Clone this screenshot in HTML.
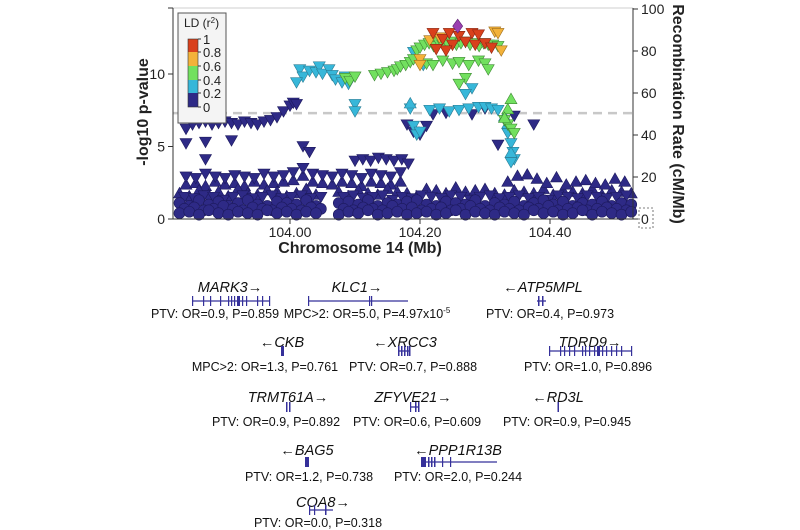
<!DOCTYPE html>
<html><head><meta charset="utf-8"><style>
html,body{margin:0;padding:0;background:#fff;}
body{width:800px;height:530px;overflow:hidden;position:relative;font-family:"Liberation Sans",Arial,sans-serif;}
svg{position:absolute;left:0;top:0;}
</style></head><body>
<svg id="chart" width="800" height="530" viewBox="0 0 800 530" xmlns="http://www.w3.org/2000/svg">
  <g id="plot"></g>
  <g id="axes"></g>
  <g id="legend"></g>
  <g id="genes"></g>
</svg>
<script>
// ---- data ----
const xTicks = [104.00, 104.20, 104.40];
const xTickLabels = ["104.00", "104.20", "104.40"];
const yTicks = [0, 5, 10];
const recTicks = [0, 20, 40, 60, 80, 100];
const gwasThreshold = 7.3;

const navyCirX = [103.83,103.845,103.86,103.875,103.89,103.905,103.92,103.935,103.95,103.965,103.98,103.995,104.01,104.025,104.04,104.075,104.09,104.105,104.12,104.135,104.15,104.165,104.18,104.195,104.21,104.225,104.24,104.255,104.27,104.285,104.3,104.315,104.33,104.345,104.36,104.375,104.39,104.405,104.42,104.435,104.45,104.465,104.48,104.495,104.51,104.525];
const navyCirY = [0.4,0.5,0.3,0.6,0.4,0.3,0.5,0.4,0.3,0.6,0.4,0.5,0.3,0.5,0.4,0.3,0.5,0.4,0.6,0.3,0.4,0.5,0.3,0.4,0.5,0.3,0.4,0.6,0.3,0.5,0.4,0.3,0.5,0.4,0.3,0.6,0.4,0.5,0.3,0.4,0.6,0.3,0.5,0.4,0.3,0.5];
const navyCir2Y = [1.1,0.9,1.3,1.0,1.2,0.9,1.1,1.3,1.0,0.9,1.2,1.1,1.0,1.3,0.9,1.1,1.2,1.0,1.3,0.9,1.1,1.0,1.2,1.3,1.0,0.9,1.2,1.1,1.0,1.3,0.9,1.1,1.0,1.2,0.9,1.1,1.3,1.0,1.2,0.9,1.1,1.0,1.2,0.9,1.1,1.0];
const navyUpY = [1.8,1.6,2.0,1.7,1.9,1.6,2.1,1.8,1.7,2.0,1.9,1.6,1.8,2.1,1.7,1.9,1.6,2.0,1.8,1.7,2.1,1.9,1.8,1.6,2.1,2.0,1.8,2.2,1.9,2.0,2.1,1.8,1.7,2.0,1.9,1.8,2.1,1.7,2.0,1.9,1.8,2.1,1.7,2.0,1.9,1.8];
const navyStagX = [103.8375,103.8525,103.8675,103.8825,103.8975,103.9125,103.9275,103.9425,103.9575,103.9725,103.9875,104.0025,104.0175,104.0325,104.0475,104.0825,104.0975,104.1125,104.1275,104.1425,104.1575,104.1725,104.1875,104.2025,104.2175,104.2325,104.2475,104.2625,104.2775,104.2925,104.3075,104.3225,104.3375,104.3525,104.3675,104.3825,104.3975,104.4125,104.4275,104.4425,104.4575,104.4725,104.4875,104.5025,104.5175];
const navyStagY = [0.7,0.8,0.6,0.7,0.9,0.7,0.6,0.8,0.7,0.6,0.8,0.7,0.6,0.8,0.7,0.7,0.6,0.8,0.7,0.6,0.9,0.7,0.8,0.6,0.7,0.8,0.6,0.7,0.9,0.7,0.6,0.8,0.7,0.6,0.8,0.7,0.9,0.6,0.7,0.8,0.6,0.7,0.8,0.7,0.6];
const navyStag2Y = [1.5,1.4,1.6,1.5,1.3,1.5,1.6,1.4,1.5,1.6,1.4,1.5,1.6,1.4,1.5,1.5,1.6,1.4,1.5,1.6,1.3,1.5,1.4,1.6,1.5,1.4,1.6,1.5,1.3,1.5,1.6,1.4,1.5,1.6,1.4,1.5,1.3,1.6,1.5,1.4,1.6,1.5,1.4,1.5,1.6];
const navyBandX = [103.84,103.855,103.87,103.885,103.9,103.915,103.93,103.945,103.96,103.975,103.99,104.005,104.02,104.035,104.05,104.065,104.08,104.095,104.11,104.125,104.14,104.155,104.17];
const navyBandY = [2.9,2.8,3.1,2.9,2.8,3.0,2.9,2.8,3.1,2.9,3.0,3.2,3.5,3.1,3.0,2.9,3.1,3.0,2.8,3.1,3.0,2.9,3.2];
const navyBand2Y = [2.4,2.5,2.3,2.6,2.4,2.5,2.3,2.6,2.4,2.5,2.6,2.7,3.0,2.6,2.5,2.4,2.6,2.5,2.3,2.6,2.5,2.4,2.6];
const navyRightX = [104.335,104.35,104.365,104.38,104.395,104.41,104.425,104.44,104.455,104.47,104.485,104.5,104.515];
const navyRightY = [2.6,3.0,3.1,2.8,2.5,2.9,2.4,2.6,2.7,2.5,2.4,2.8,2.6];
const navyMidX = [104.10,104.112,104.124,104.136,104.148,104.16,104.172,104.182];
const navyMidY = [4.0,4.1,4.0,4.2,4.1,4.0,4.1,3.8];
const navyDownX = [103.84,103.85,103.86,103.87,103.88,103.89,103.9,103.91,103.92,103.93,103.94,103.95,103.96,103.97,103.98,103.99,104.0,104.005,104.01,103.84,103.87,103.87,103.91,104.02,104.03,104.18,104.19,104.28,104.3,104.345,104.375,104.32,104.22,104.24,104.2,104.21];
const navyDownY = [6.2,6.5,6.6,6.7,6.5,6.6,6.7,6.6,6.5,6.7,6.6,6.5,6.7,6.8,7.0,7.4,7.8,8.0,7.9,5.2,5.3,4.1,5.4,5.0,4.6,6.5,6.0,7.2,7.6,7.1,6.5,5.1,7.2,7.3,5.8,6.4];
const cyanX = [104.015,104.02,104.03,104.04,104.045,104.05,104.06,104.065,104.07,104.08,104.085,104.09,104.1,104.1,104.01,104.19,104.185,104.19,104.195,104.2,104.205,104.215,104.23,104.245,104.26,104.275,104.29,104.3,104.31,104.32,104.28,104.27,104.335,104.34,104.343,104.345,104.34];
const cyanY = [10.3,9.8,10.2,10.1,10.5,10.0,10.3,9.9,9.6,9.4,9.8,9.3,7.9,7.4,9.4,11.5,7.6,6.4,5.8,6.0,10.6,7.5,7.6,7.4,7.5,7.6,7.7,7.7,7.6,7.5,9.0,8.6,5.9,5.2,4.6,4.1,3.9];
const cyanUpX = [104.185,104.33,104.335,104.34];
const cyanUpY = [8.0,7.1,6.6,4.6];
const greenX = [104.085,104.092,104.1,104.13,104.14,104.15,104.16,104.165,104.17,104.178,104.185,104.19,104.195,104.2,104.207,104.214,104.221,104.228,104.235,104.242,104.249,104.256,104.263,104.27,104.277,104.284,104.291,104.298,104.305,104.312,104.32,104.21,104.22,104.235,104.25,104.26,104.275,104.29,104.3,104.27,104.26,104.305,104.33,104.335,104.34,104.345];
const greenY = [9.7,9.5,9.8,9.9,10.0,10.1,10.2,10.3,10.5,10.6,10.8,11.0,11.6,11.8,12.0,12.1,11.9,12.2,12.0,12.1,12.2,12.0,12.1,12.2,12.0,12.1,11.9,12.1,12.0,12.0,11.9,10.7,10.6,10.9,10.7,10.8,10.6,10.9,10.7,9.7,9.3,10.3,6.8,6.5,6.2,5.9];
const greenUpX = [104.34,104.335,104.33];
const greenUpY = [8.3,7.6,7.0];
const yellowX = [104.2,104.2,104.215,104.23,104.315,104.32,104.325];
const yellowY = [11.0,10.6,12.3,12.5,12.9,12.8,11.6];
const redX = [104.22,104.235,104.245,104.25,104.26,104.27,104.28,104.285,104.29,104.3,104.31,104.24,104.225];
const redY = [12.8,12.4,12.8,12.0,12.6,12.2,12.8,12.0,12.7,12.1,11.8,11.6,11.7];
const purpleX = [104.258];
const purpleY = [13.3];

const ldLabels = ["1","0.8","0.6","0.4","0.2","0"];
const ldColors = ["#d9401c","#f3b23a","#72e05f","#37b7d9","#2e2a86"];

// ---- scales ----
const X0 = 290, PXMB = 650, Y0 = 219, PXU = 14.5;
const L = 173, R = 633, T = 8;
function xs(v){ return X0 + (v - 104.0) * PXMB; }
function ys(v){ return Y0 - v * PXU; }
function rs(v){ return Y0 - v * 2.1; }

const NS = "http://www.w3.org/2000/svg";
function mk(tag, attrs, parent){
  const e = document.createElementNS(NS, tag);
  for (const k in attrs) e.setAttribute(k, attrs[k]);
  parent.appendChild(e);
  return e;
}
const plot = document.getElementById('plot');
const axes = document.getElementById('axes');
const legend = document.getElementById('legend');
const genes = document.getElementById('genes');

let fr = mk('line', {x1:L, y1:T, x2:R, y2:T, stroke:'#cfcfcf', 'stroke-width':1}, axes);



let th = mk('line', {x1:L, y1:ys(gwasThreshold), x2:R, y2:ys(gwasThreshold), stroke:'#c8c8c8', 'stroke-width':2.5, 'stroke-dasharray':'9 6'}, plot);



function tri(x, y, up){
  return up ? `M${x-6},${y+5} L${x+6},${y+5} L${x},${y-5.5} Z`
            : `M${x-6},${y-5} L${x+6},${y-5} L${x},${y+5.5} Z`;
}
function drawSeries(xArr, yArr, shape, fill, stroke, name){
  for (let i = 0; i < xArr.length; i++){
    const x = xs(xArr[i]), y = ys(yArr[i]);
    let el;
    if (shape === 'circle') el = mk('circle', {cx:x, cy:y, r:5.5, fill:fill, stroke:stroke, 'stroke-width':0.6}, plot);
    else if (shape === 'diamond') el = mk('path', {d:`M${x},${y-7} L${x+5},${y} L${x},${y+7} L${x-5},${y} Z`, fill:fill, stroke:stroke, 'stroke-width':0.6}, plot);
    else el = mk('path', {d:tri(x, y, shape === 'up'), fill:fill, stroke:stroke, 'stroke-width':0.6}, plot);
    
    
  }
}
const NV = '#2e2a86', NVS = '#1d1a5e';
drawSeries(navyBandX, navyBand2Y, 'up', NV, NVS, 'snp-point-ld-0');
drawSeries(navyCirX, navyUpY, 'up', NV, NVS, 'snp-point-ld-0');
drawSeries(navyStagX, navyStag2Y, 'down', NV, NVS, 'snp-point-ld-0');
drawSeries(navyCirX, navyCir2Y, 'circle', NV, NVS, 'snp-point-ld-0');
drawSeries(navyStagX, navyStagY, 'circle', NV, NVS, 'snp-point-ld-0');
drawSeries(navyCirX, navyCirY, 'circle', NV, NVS, 'snp-point-ld-0');
drawSeries(navyBandX, navyBandY, 'down', NV, NVS, 'snp-point-ld-0');
drawSeries(navyRightX, navyRightY, 'up', NV, NVS, 'snp-point-ld-0');
drawSeries(navyMidX, navyMidY, 'down', NV, NVS, 'snp-point-ld-0');
drawSeries(navyDownX, navyDownY, 'down', NV, NVS, 'snp-point-ld-0');
drawSeries(cyanX, cyanY, 'down', '#37b7d9', '#2a7d95', 'snp-point-ld-0.2');
drawSeries(cyanUpX, cyanUpY, 'up', '#37b7d9', '#2a7d95', 'snp-point-ld-0.2');
drawSeries(greenX, greenY, 'down', '#72e05f', '#3f8a35', 'snp-point-ld-0.4');
drawSeries(greenUpX, greenUpY, 'up', '#72e05f', '#3f8a35', 'snp-point-ld-0.4');
drawSeries(yellowX, yellowY, 'down', '#f3b23a', '#a06e1c', 'snp-point-ld-0.6');
drawSeries(redX, redY, 'down', '#d9401c', '#8a2610', 'snp-point-ld-0.8');
drawSeries(purpleX, purpleY, 'diamond', '#9b3fb0', '#5d2270', 'lead-snp');

let la = mk('line', {x1:L, y1:T, x2:L, y2:Y0, stroke:'#333', 'stroke-width':1}, axes);


let ba = mk('line', {x1:L, y1:Y0, x2:R, y2:Y0, stroke:'#333', 'stroke-width':1}, axes);


let ra = mk('line', {x1:R, y1:T, x2:R, y2:Y0, stroke:'#333', 'stroke-width':1}, axes);



yTicks.forEach(v => {
  mk('line', {x1:L-5, y1:ys(v), x2:L, y2:ys(v), stroke:'#333'}, axes);
  const t = mk('text', {x:L-8, y:ys(v)+5, 'text-anchor':'end', 'font-size':14, fill:'#222'}, axes);
  t.textContent = v;
  
  
});
mk('line', {x1:L, y1:T, x2:L-5, y2:T, stroke:'#333'}, axes);
recTicks.forEach(v => {
  mk('line', {x1:R, y1:rs(v), x2:R+5, y2:rs(v), stroke:'#333'}, axes);
  const t = mk('text', {x:R+8, y:rs(v)+5, 'font-size':14, fill:'#222'}, axes);
  t.textContent = v;
  
  
});
let db = mk('rect', {x:639, y:208, width:14, height:20, fill:'none', stroke:'#555', 'stroke-dasharray':'2 2', 'stroke-width':0.8}, axes);


xTicks.forEach((v, i) => {
  mk('line', {x1:xs(v), y1:Y0, x2:xs(v), y2:Y0+5, stroke:'#333'}, axes);
  const t = mk('text', {x:xs(v), y:237, 'text-anchor':'middle', 'font-size':14, fill:'#222'}, axes);
  t.textContent = xTickLabels[i];
  
  
});
let xt = mk('text', {x:360, y:253, 'text-anchor':'middle', 'font-size':16, 'font-weight':'bold', fill:'#222'}, axes);
xt.textContent = 'Chromosome 14 (Mb)';


let yt = mk('text', {x:0, y:0, transform:'translate(148,112) rotate(-90)', 'text-anchor':'middle', 'font-size':16, 'font-weight':'bold', fill:'#222'}, axes);
yt.textContent = '-log10 p-value';


let rt = mk('text', {x:0, y:0, transform:'translate(673,114) rotate(90)', 'text-anchor':'middle', 'font-size':16, 'font-weight':'bold', fill:'#222'}, axes);
rt.textContent = 'Recombination Rate (cM/Mb)';



let lb = mk('rect', {x:178, y:13, width:48, height:110, fill:'#f4f4f4', stroke:'#555', 'stroke-width':1}, legend);


let ltt = mk('text', {x:184, y:27, 'font-size':12, fill:'#222'}, legend);
ltt.innerHTML = 'LD (r<tspan font-size="8" dy="-4">2</tspan><tspan dy="4">)</tspan>';


const segY = [39, 52, 66, 80, 93, 107];
ldColors.forEach((c, i) => {
  const r = mk('rect', {x:188, y:segY[i], width:10, height:segY[i+1]-segY[i], fill:c}, legend);
  
  
});
mk('rect', {x:188, y:39, width:10, height:68, fill:'none', stroke:'#333', 'stroke-width':0.6}, legend);
ldLabels.forEach((lab, i) => {
  mk('line', {x1:198, y1:segY[i], x2:201, y2:segY[i], stroke:'#333'}, legend);
  const t = mk('text', {x:203, y:segY[i]+5, 'font-size':13, fill:'#222'}, legend);
  t.textContent = lab;
  
  
});

const GC = '#35309a';
function gene(name, tx, ty, x1, x2, gy, exons, label, lx, ly, key){
  const g = mk('g', {}, genes);
  
  
  const t = mk('text', {x:tx, y:ty, 'text-anchor':'middle', 'font-size':14.5, 'font-style':'italic', fill:'#111'}, g);
  t.textContent = name;
  
  
  if (x2 > x1) mk('line', {x1:x1, y1:gy, x2:x2, y2:gy, stroke:GC, 'stroke-width':1.3}, g);
  exons.forEach(e => mk('rect', {x:e[0], y:gy-5, width:e[1], height:10, fill:GC}, g));
  const l = mk('text', {x:lx, y:ly, 'text-anchor':'middle', 'font-size':12.5, fill:'#111'}, g);
  l.innerHTML = label;
  
  
}
gene('MARK3\u2192', 230, 292, 192, 270, 301, [[192,1.2],[203,1.2],[210,1.2],[220,1.2],[228,1.2],[231,1.2],[234,1.2],[237,3],[242,1.2],[246,1.2],[257,1.2],[262,1.2],[269,1.2]], 'PTV: OR=0.9, P=0.859', 215, 318, 'mark3');
gene('KLC1\u2192', 357, 292, 308, 408, 301, [[308,1.2],[369,1.2],[371,1.2]], 'MPC&gt;2: OR=5.0, P=4.97x10<tspan font-size="8" dy="-5">-5</tspan>', 367, 318, 'klc1');
gene('\u2190ATP5MPL', 543, 292, 537, 546, 301, [[538,1.5],[542,1.5]], 'PTV: OR=0.4, P=0.973', 550, 318, 'atp5mpl');
gene('\u2190CKB', 282, 347, 0, 0, 351, [[281,3]], 'MPC&gt;2: OR=1.3, P=0.761', 265, 371, 'ckb');
gene('\u2190XRCC3', 405, 347, 398, 410, 351, [[398,1.5],[401,1.5],[404,1.5],[407,1.5],[409,1.5]], 'PTV: OR=0.7, P=0.888', 413, 371, 'xrcc3');
gene('TDRD9\u2192', 590, 347, 549, 632, 351, [[549,1.2],[560,1.2],[564,1.2],[569,1.2],[574,1.2],[582,1.2],[585,1.2],[589,1.2],[594,1.2],[597,3],[602,1.2],[606,1.2],[611,1.2],[616,1.2],[621,1.2],[631,1.2]], 'PTV: OR=1.0, P=0.896', 588, 371, 'tdrd9');
gene('TRMT61A\u2192', 288, 402, 0, 0, 407, [[286,1.5],[289,1.5]], 'PTV: OR=0.9, P=0.892', 276, 426, 'trmt61a');
gene('ZFYVE21\u2192', 413, 402, 410, 419, 407, [[410,1.2],[415,1.5],[418,1.5]], 'PTV: OR=0.6, P=0.609', 417, 426, 'zfyve21');
gene('\u2190RD3L', 558, 402, 0, 0, 407, [[557.5,1.5]], 'PTV: OR=0.9, P=0.945', 567, 426, 'rd3l');
gene('\u2190BAG5', 307, 455, 0, 0, 462, [[305,4]], 'PTV: OR=1.2, P=0.738', 309, 481, 'bag5');
gene('\u2190PPP1R13B', 458, 455, 421, 497, 462, [[421,5],[428,1.5],[431,1.5],[434,1.5],[442,1.2],[450,1.2]], 'PTV: OR=2.0, P=0.244', 458, 481, 'ppp1r13b');
gene('COA8\u2192', 323, 507, 309, 333, 510, [[309,1.2],[314,1.2],[325,1.5]], 'PTV: OR=0.0, P=0.318', 318, 527, 'coa8');
</script>
</body></html>
